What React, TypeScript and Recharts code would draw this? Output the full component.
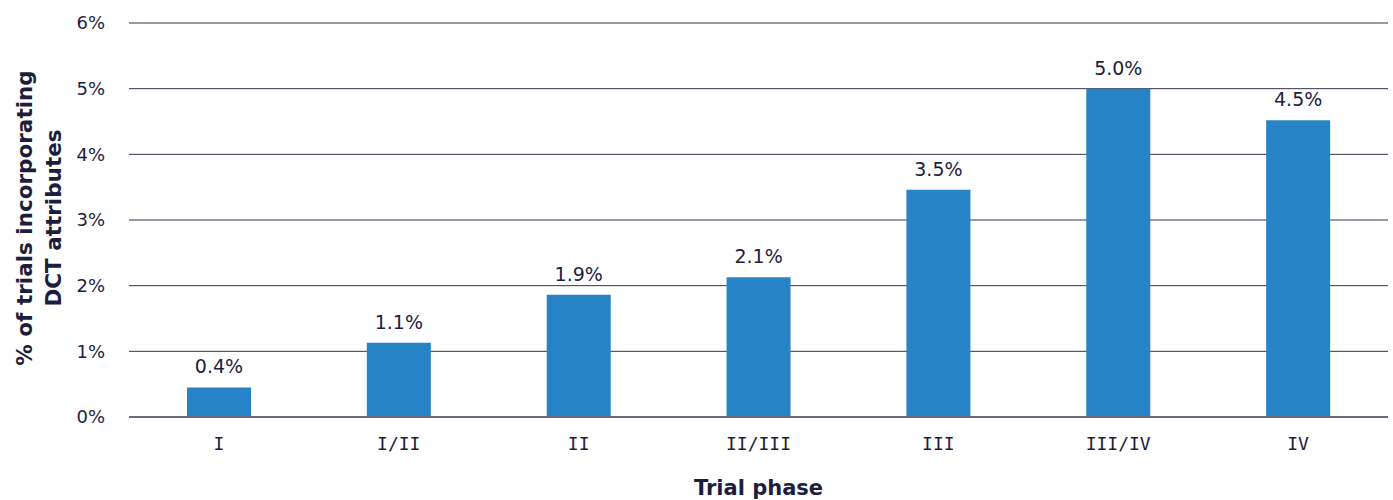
import React from 'react'
import { BarChart, Bar, XAxis, YAxis, CartesianGrid, LabelList } from 'recharts'

const phases = ['I', 'I/II', 'II', 'II/III', 'III', 'III/IV', 'IV']
const shares = [0.45, 1.13, 1.86, 2.13, 3.46, 5.0, 4.52]
const shareLabels = ['0.4%', '1.1%', '1.9%', '2.1%', '3.5%', '5.0%', '4.5%']
const yTicks = [0, 1, 2, 3, 4, 5, 6]

const data = phases.map((phase, i) => ({ phase, share: shares[i], label: shareLabels[i] }))

const ink = '#1d1d3d'
const font = '"DejaVu Sans", sans-serif'

const YTitle = ({ viewBox }: any) => {
    const cy = viewBox.y + viewBox.height / 2 - 2
    return (
        <g>
            <text x={24} y={cy} transform={`rotate(-90, 24, ${cy})`} textAnchor="middle" dominantBaseline="central"
                fill={ink} fontFamily={font} fontWeight={700} fontSize={21.5}>
                % of trials incorporating
            </text>
            <text x={53} y={cy} transform={`rotate(-90, 53, ${cy})`} textAnchor="middle" dominantBaseline="central"
                fill={ink} fontFamily={font} fontWeight={700} fontSize={21.5}>
                DCT attributes
            </text>
        </g>
    )
}

export default function App() {
    return (
        <div>
            <style>{`body{margin:0}`}</style>
            <BarChart width={1393} height={500} data={data} margin={{ top: 23, right: 5, bottom: 0, left: 0 }}>
                <CartesianGrid vertical={false} stroke="#33334f" strokeWidth={1} />
                <XAxis dataKey="phase" height={83} tickSize={0} tickMargin={20}
                    axisLine={{ stroke: '#6a6a82', strokeWidth: 2 }}
                    tick={{ fill: ink, fontFamily: '"DejaVu Sans Mono", monospace', fontSize: 18 }}
                    label={{ value: 'Trial phase', position: 'insideBottom', offset: 5, fill: ink, fontFamily: font, fontWeight: 700, fontSize: 21 }} />
                <YAxis domain={[0, 6]} ticks={yTicks} width={129} tickSize={0} tickMargin={24}
                    axisLine={false} tickFormatter={(v) => `${v}%`}
                    tick={{ fill: ink, fontFamily: font, fontSize: 18 }}
                    label={{ content: YTitle }} />
                <Bar dataKey="share" fill="#2683c6" barSize={64} isAnimationActive={false}>
                    <LabelList dataKey="label" position="top" offset={14} fill={ink} fontFamily={font} fontSize={19} />
                </Bar>
            </BarChart>
        </div>
    )
}
